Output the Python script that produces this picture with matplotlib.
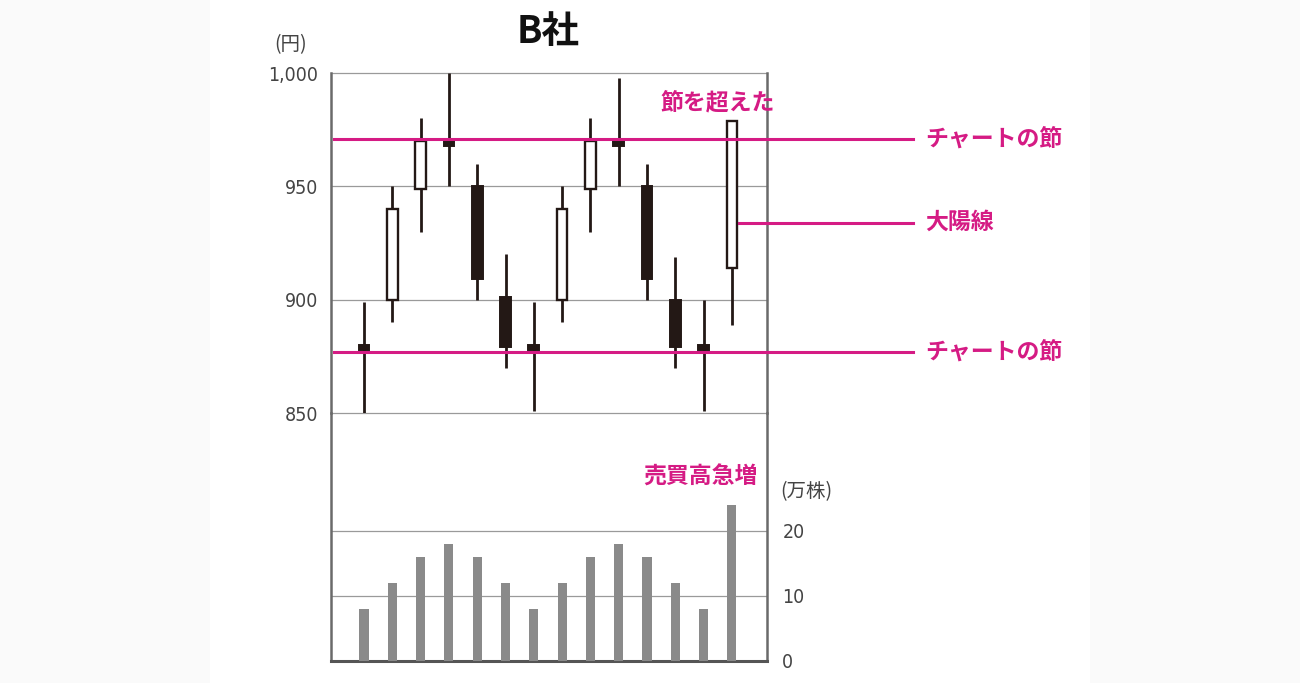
import matplotlib.pyplot as plt
import matplotlib.patches as patches
from matplotlib.transforms import blended_transform_factory
import numpy as np

plt.rcParams['font.family'] = ['Noto Sans CJK JP', 'DejaVu Sans']

# data
days = np.arange(14)
opens  = [880, 900, 949, 970, 950, 901, 880, 900, 949, 970, 950, 900, 880, 914]
closes = [878, 940, 970, 968, 909, 879, 878, 940, 970, 968, 909, 879, 878, 979]
highs  = [899, 950, 980, 1000, 960, 920, 899, 950, 980, 998, 960, 919, 900, 979]
lows   = [850, 890, 930, 950, 900, 870, 851, 890, 930, 950, 900, 870, 851, 889]
volume = [8, 12, 16, 18, 16, 12, 8, 12, 16, 18, 16, 12, 8, 24]

price_ticks = [850, 900, 950, 1000]
price_labels = ["850", "900", "950", "1,000"]
vol_ticks = [0, 10, 20]
nodes = [971, 877]          # チャートの節
big_candle_mark = 934       # 大陽線 pointer

W, H = 1300, 683
fig = plt.figure(figsize=(13, 6.83), dpi=100, facecolor="#fafafa")

def fx(px):
    return px / W

def fy(py):
    return 1 - py / H

fig.patches.append(patches.Rectangle((fx(210), 0), fx(880), 1, transform=fig.transFigure,
                                     facecolor="white", edgecolor="none", zorder=-10))

ink = "#231815"
pink = "#d51b84"
grid_c = "#9a9a9a"
spine_c = "#6a6a6a"
num_font = dict(family="DejaVu Sans", stretch="condensed", size=14, color="#444444")

xl = (-1.166, 14.24)

ax1 = fig.add_axes([fx(331), fy(413), fx(436), (413 - 73) / H])
ax2 = fig.add_axes([fx(331), fy(661), fx(436), (661 - 413) / H])
ax1.set_facecolor("none")
ax2.set_facecolor("none")

# price panel
ax1.set_xlim(*xl)
ax1.set_ylim(850, 1000)
for v in price_ticks:
    ax1.axhline(v, color=grid_c, lw=0.9, zorder=1, clip_on=False)
ax1.vlines(days, lows, highs, color=ink, lw=2.0, zorder=3)
bw = 0.38
for d, o, c in zip(days, opens, closes):
    lo = min(o, c)
    hgt = abs(c - o)
    if c > o:
        ax1.add_patch(patches.Rectangle((d - bw / 2, lo), bw, hgt, facecolor="white",
                                        edgecolor=ink, lw=1.7, zorder=4))
    else:
        ax1.add_patch(patches.Rectangle((d - bw / 2, lo), bw, hgt, facecolor=ink,
                                        edgecolor=ink, lw=1.4, zorder=4))

ax1.set_yticks(price_ticks)
ax1.set_yticklabels(price_labels, fontdict=num_font)
ax1.set_xticks([])
ax1.tick_params(axis="y", length=0, pad=9)
for s in ["top", "bottom"]:
    ax1.spines[s].set_visible(False)
for s in ["left", "right"]:
    ax1.spines[s].set_color(spine_c)
    ax1.spines[s].set_linewidth(1.8)

# volume panel
ax2.set_xlim(*xl)
ax2.set_ylim(0, 38.15)
for v in vol_ticks[1:]:
    ax2.axhline(v, color=grid_c, lw=0.9, zorder=1)
ax2.bar(days, volume, width=0.32, color="#8a8a8a", zorder=3)
ax2.set_xticks([])
ax2.yaxis.tick_right()
ax2.set_yticks(vol_ticks)
ax2.set_yticklabels([str(v) for v in vol_ticks], fontdict=num_font)
ax2.tick_params(axis="y", length=0, pad=11)
ax2.spines["top"].set_visible(False)
for s in ["left", "right"]:
    ax2.spines[s].set_color(spine_c)
    ax2.spines[s].set_linewidth(1.8)
ax2.spines["bottom"].set_color("#555555")
ax2.spines["bottom"].set_linewidth(2.2)

# node lines, running out of the frame to the labels
tr = blended_transform_factory(fig.transFigure, ax1.transData)
for v in nodes:
    ax1.plot([fx(334), fx(913)], [v, v], color=pink, lw=2.2, transform=tr,
             clip_on=False, zorder=5)
    fig.text(fx(925), v, "チャートの節", color=pink, fontsize=16.5, fontweight="bold",
             va="center", ha="left", transform=tr)
ax1.plot([fx(739), fx(913)], [big_candle_mark, big_candle_mark], color=pink, lw=2.2,
         transform=tr, clip_on=False, zorder=5)
fig.text(fx(925), big_candle_mark, "大陽線", color=pink, fontsize=16.5, fontweight="bold",
         va="center", ha="left", transform=tr)

fig.text(fx(775), fy(103), "節を超えた", color=pink, fontsize=16.5, fontweight="bold",
         va="center", ha="right")
fig.text(fx(758), fy(477), "売買高急増", color=pink, fontsize=16.5, fontweight="bold",
         va="center", ha="right")

# units and title
fig.text(fx(291), fy(45), "(円)", color="#444444", fontsize=14, ha="center", va="center")
fig.text(fx(806), fy(492), "(万株)", color="#444444", fontsize=14, ha="center", va="center")
fig.text(fx(548), fy(31), "B社", color="#111111", fontsize=27, fontweight="bold",
         ha="center", va="center")

fig.savefig("out.png", dpi=100, facecolor=fig.get_facecolor())
